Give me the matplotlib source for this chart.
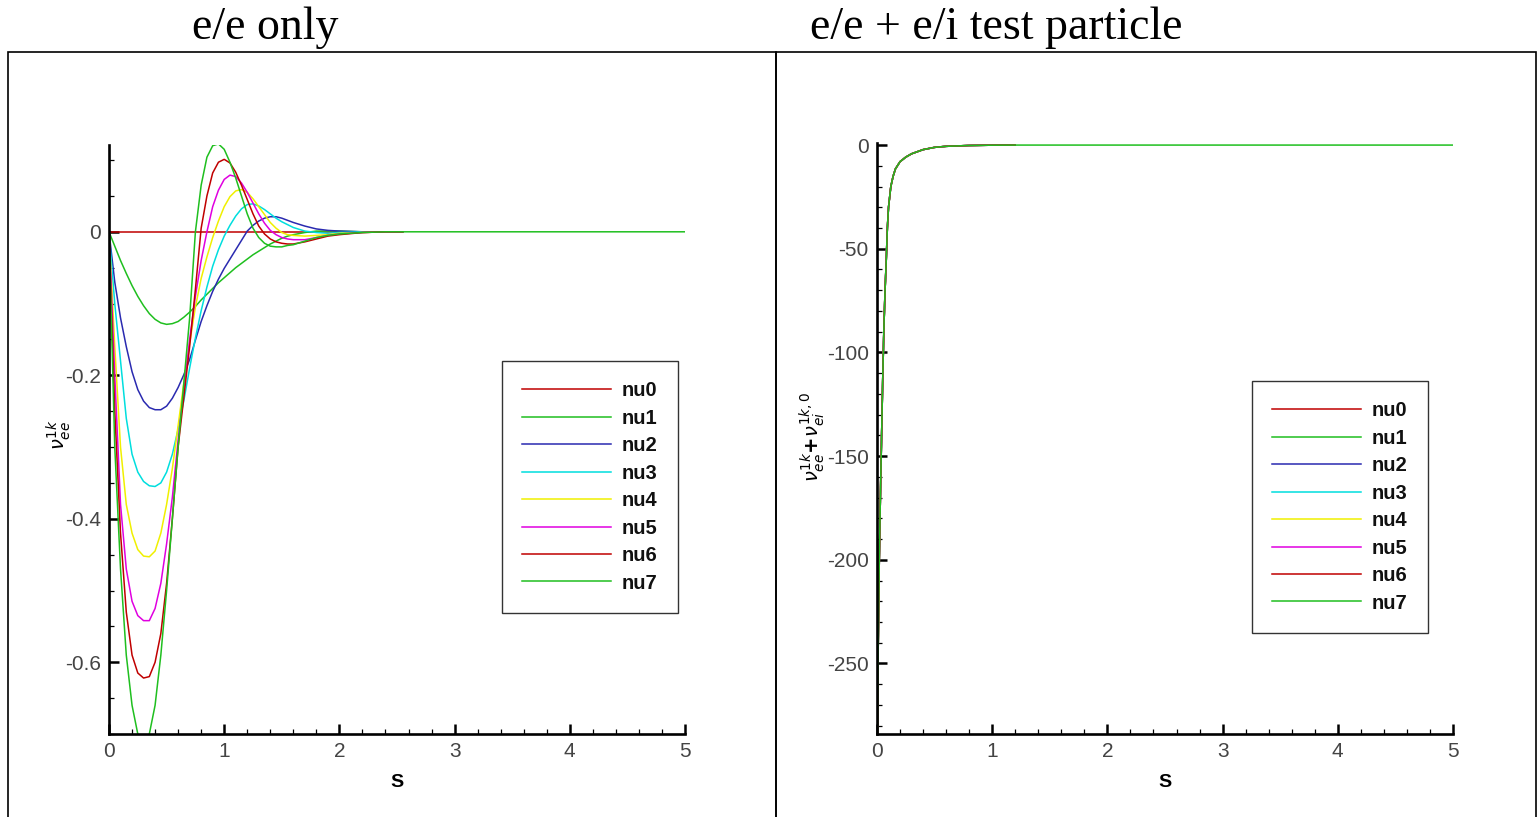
import matplotlib
matplotlib.use('Agg')
import matplotlib.pyplot as plt
from matplotlib.patches import Rectangle
from matplotlib.ticker import MultipleLocator, FuncFormatter

plt.rcParams['axes.unicode_minus'] = False

labels = ['nu0', 'nu1', 'nu2', 'nu3', 'nu4', 'nu5', 'nu6', 'nu7']
colors = ['#c00000', '#1fbf1f', '#2a2ab0', '#00dede', '#f0f000', '#e000e0', '#c00000', '#1fbf1f']

# left panel: e/e only
s_left = [0.0, 0.05, 0.1, 0.15, 0.2, 0.25, 0.3, 0.35, 0.4, 0.45,
          0.5, 0.55, 0.6, 0.65, 0.7, 0.75, 0.8, 0.85, 0.9, 0.95,
          1.0, 1.05, 1.1, 1.15, 1.2, 1.25, 1.3, 1.35, 1.4, 1.45,
          1.5, 1.55, 1.6, 1.7, 1.8, 1.9, 2.0, 2.2, 2.4, 2.55, 5.0]
nu0 = [0.0] * 41
nu1 = [0.0, -0.02, -0.04, -0.058, -0.075, -0.09, -0.103, -0.114, -0.122, -0.127,
       -0.129, -0.128, -0.125, -0.119, -0.112, -0.104, -0.095, -0.087, -0.079, -0.071,
       -0.064, -0.057, -0.050, -0.044, -0.038, -0.032, -0.027, -0.022, -0.017, -0.013,
       -0.009, -0.006, -0.004, -0.001, 0.001, 0.001, 0.001, 0.0, 0.0, 0.0, 0.0]
nu2 = [0.0, -0.07, -0.12, -0.16, -0.195, -0.22, -0.236, -0.245, -0.248, -0.248,
       -0.243, -0.232, -0.217, -0.199, -0.178, -0.151, -0.125, -0.103, -0.083, -0.066,
       -0.051, -0.038, -0.025, -0.012, 0.001, 0.009, 0.015, 0.019, 0.021, 0.021,
       0.019, 0.016, 0.013, 0.008, 0.004, 0.002, 0.001, 0.0, 0.0, 0.0, 0.0]
nu3 = [0.0, -0.10, -0.18, -0.26, -0.31, -0.335, -0.348, -0.354, -0.355, -0.35,
       -0.335, -0.31, -0.275, -0.235, -0.19, -0.148, -0.11, -0.077, -0.048, -0.025,
       -0.006, 0.009, 0.022, 0.032, 0.038, 0.039, 0.036, 0.031, 0.025, 0.019,
       0.014, 0.010, 0.006, 0.001, -0.001, -0.002, -0.001, 0.0, 0.0, 0.0, 0.0]
nu4 = [0.0, -0.16, -0.30, -0.38, -0.42, -0.443, -0.452, -0.453, -0.445, -0.42,
       -0.38, -0.33, -0.27, -0.21, -0.155, -0.105, -0.065, -0.035, -0.008, 0.015,
       0.035, 0.049, 0.057, 0.059, 0.055, 0.046, 0.035, 0.024, 0.013, 0.005,
       -0.001, -0.004, -0.005, -0.006, -0.005, -0.004, -0.002, -0.001, 0.0, 0.0, 0.0]
nu5 = [0.0, -0.20, -0.38, -0.47, -0.515, -0.535, -0.542, -0.542, -0.525, -0.49,
       -0.435, -0.37, -0.29, -0.22, -0.15, -0.09, -0.04, 0.0, 0.035, 0.058,
       0.073, 0.079, 0.077, 0.068, 0.055, 0.040, 0.025, 0.012, 0.002, -0.004,
       -0.008, -0.010, -0.011, -0.011, -0.008, -0.005, -0.003, -0.001, 0.0, 0.0, 0.0]
nu6 = [0.0, -0.25, -0.42, -0.53, -0.59, -0.615, -0.622, -0.62, -0.60, -0.56,
       -0.49, -0.40, -0.30, -0.23, -0.16, -0.08, 0.005, 0.05, 0.082, 0.097,
       0.101, 0.096, 0.083, 0.065, 0.045, 0.025, 0.008, -0.003, -0.010, -0.014,
       -0.016, -0.017, -0.017, -0.014, -0.010, -0.006, -0.004, -0.001, 0.0, 0.0, 0.0]
nu7 = [0.0, -0.30, -0.47, -0.59, -0.66, -0.70, -0.715, -0.70, -0.66, -0.59,
       -0.50, -0.40, -0.30, -0.21, -0.12, 0.0, 0.065, 0.104, 0.12, 0.1225,
       0.115, 0.097, 0.075, 0.05, 0.025, 0.005, -0.008, -0.016, -0.02, -0.021,
       -0.021, -0.019, -0.018, -0.013, -0.008, -0.005, -0.003, -0.001, 0.0, 0.0, 0.0]
left_curves = [nu0, nu1, nu2, nu3, nu4, nu5, nu6, nu7]
left_end = [2.55, 2.55, 2.55, 2.55, 2.55, 2.55, 2.55, 5.0]

# right panel: e/e + e/i test particle (all nu curves lie on top of each other)
s_right = [0.0, 0.005, 0.01, 0.02, 0.03, 0.04, 0.05, 0.06, 0.07, 0.08,
           0.09, 0.1, 0.12, 0.14, 0.16, 0.2, 0.25, 0.3, 0.4, 0.5,
           0.6, 0.8, 1.0, 1.2, 5.0]
nu_right = [-300.0, -280.0, -245.0, -200.0, -168.0, -140.0, -112.0, -88.0, -70.0, -56.0,
            -40.0, -30.0, -20.0, -15.0, -11.5, -8.0, -5.8, -4.2, -2.2, -1.1,
            -0.6, -0.2, -0.05, 0.0, 0.0]
right_end = [1.2, 1.2, 1.2, 1.2, 1.2, 1.2, 1.2, 5.0]

tick_font = dict(family='Liberation Sans', size=15, color='#444444')


def fmt(v, pos):
    if abs(v) < 1e-9:
        return '0'
    return f'{v:g}'


def style_axes(ax, ylim, ymajor, yminor):
    ax.set_xlim(0, 5)
    ax.set_ylim(*ylim)
    for side in ['top', 'right']:
        ax.spines[side].set_visible(False)
    for side in ['left', 'bottom']:
        ax.spines[side].set_linewidth(1.9)
    ax.xaxis.set_major_locator(MultipleLocator(1))
    ax.xaxis.set_minor_locator(MultipleLocator(0.2))
    ax.yaxis.set_major_locator(MultipleLocator(ymajor))
    ax.yaxis.set_minor_locator(MultipleLocator(yminor))
    ax.xaxis.set_major_formatter(FuncFormatter(fmt))
    ax.yaxis.set_major_formatter(FuncFormatter(fmt))
    ax.tick_params(which='major', direction='in', length=7, width=1.8, pad=6)
    ax.tick_params(which='minor', direction='in', length=3.8, width=0.9)
    for lab in ax.get_xticklabels() + ax.get_yticklabels():
        lab.set_fontfamily(tick_font['family'])
        lab.set_fontsize(tick_font['size'])
        lab.set_color(tick_font['color'])
    ax.set_xlabel('S', family='Liberation Sans', fontsize=14, fontweight='bold', labelpad=9)


def add_legend(ax, anchor):
    leg = ax.legend(loc='upper left', bbox_to_anchor=anchor, borderaxespad=0,
                    frameon=True, fancybox=False, edgecolor='black',
                    prop=dict(family='Liberation Sans', size=14.5, weight='bold'),
                    handlelength=4.4, handletextpad=0.55, labelspacing=0.42,
                    borderpad=1.0)
    leg.get_frame().set_linewidth(1.0)
    for t in leg.get_texts():
        t.set_color('#111111')


def main():
    fig = plt.figure(figsize=(15.38, 8.17), dpi=100)

    # outer frames around the two panels
    for x0, x1 in [(8, 776), (776, 1536)]:
        fig.add_artist(Rectangle((x0 / 1538, -0.05), (x1 - x0) / 1538, 1 - 52 / 817 + 0.05,
                                 transform=fig.transFigure, fill=False,
                                 edgecolor='black', linewidth=1.2))

    fig.text(265 / 1538, 1 - 39 / 817, 'e/e only', family='Liberation Serif',
             fontsize=33, ha='center', va='baseline')
    fig.text(996 / 1538, 1 - 39 / 817, 'e/e + e/i test particle', family='Liberation Serif',
             fontsize=33, ha='center', va='baseline')

    ax1 = fig.add_axes([109 / 1538, 1 - 734 / 817, 576 / 1538, 589 / 817])
    for vals, end, c, lab in zip(left_curves, left_end, colors, labels):
        xs = [s for s in s_left if s <= end]
        ax1.plot(xs, vals[:len(xs)], color=c, lw=1.1, label=lab)
    style_axes(ax1, (-0.70, 0.121), 0.2, 0.05)
    add_legend(ax1, (0.682, 0.633))
    fig.text(59 / 1538, 1 - 435 / 817, r'$\nu_{ee}^{1k}$', rotation=90,
             fontsize=14, ha='center', va='center')

    ax2 = fig.add_axes([877 / 1538, 1 - 734 / 817, 576 / 1538, 591 / 817])
    for end, c, lab in zip(right_end, colors, labels):
        xs = [s for s in s_right if s <= end]
        ax2.plot(xs, nu_right[:len(xs)], color=c, lw=1.1, label=lab)
    style_axes(ax2, (-284, 1), 50, 10)
    add_legend(ax2, (0.651, 0.597))
    fig.text(812 / 1538, 1 - 437 / 817, r'$\nu_{ee}^{1k}\mathbf{+}\nu_{ei}^{1k,0}$',
             rotation=90, fontsize=14, ha='center', va='center')

    fig.savefig('out.png', dpi=100)


if __name__ == "__main__":
    main()
